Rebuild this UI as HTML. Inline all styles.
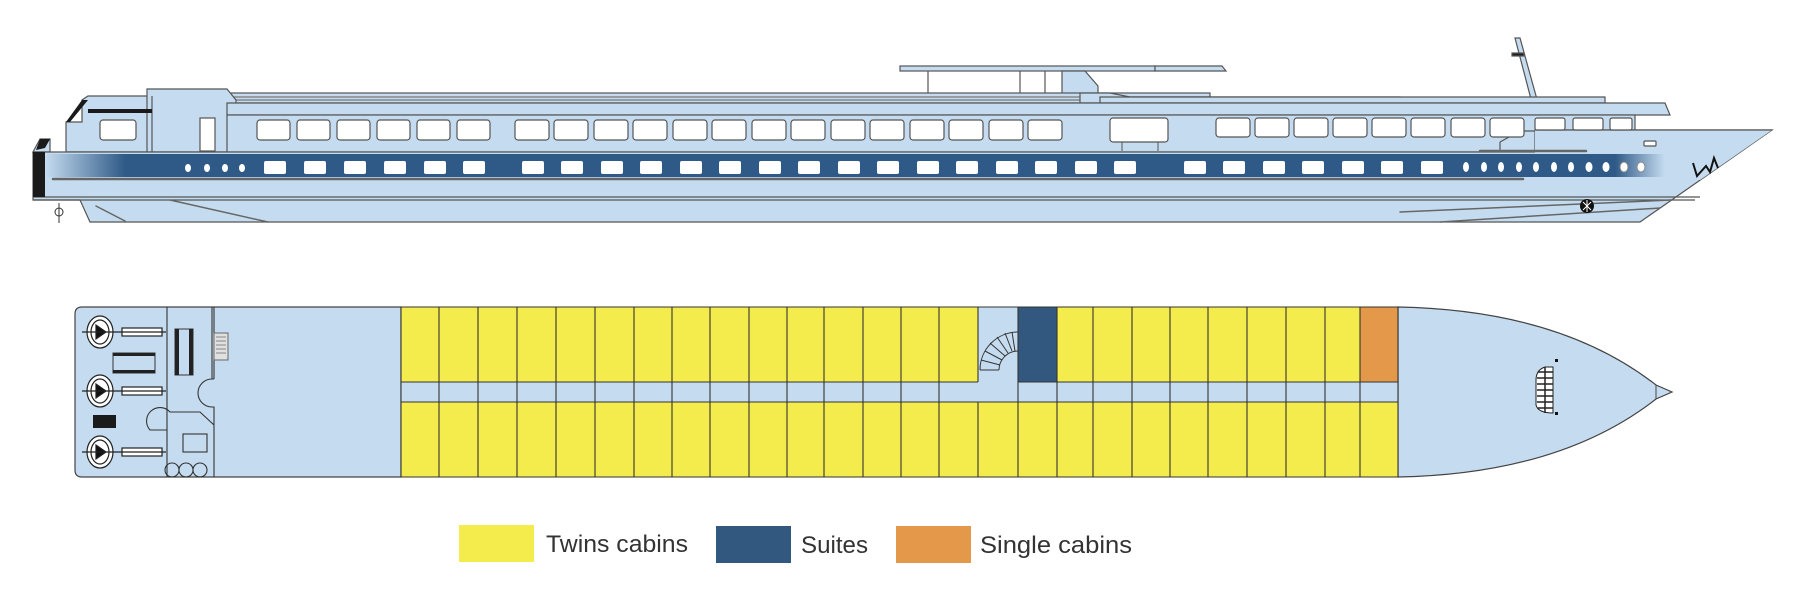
<!DOCTYPE html>
<html><head><meta charset="utf-8"><style>
html,body{margin:0;padding:0;background:#fff;}
svg{display:block;}
text{font-family:"Liberation Sans",sans-serif;}
</style></head><body>
<svg width="1800" height="611" viewBox="0 0 1800 611" xmlns="http://www.w3.org/2000/svg">
<defs>
<linearGradient id="bandL" x1="0" x2="1" y1="0" y2="0">
<stop offset="0" stop-color="#c5dcf0"/><stop offset="1" stop-color="#2f5a87"/></linearGradient>
<linearGradient id="bandR" x1="0" x2="1" y1="0" y2="0">
<stop offset="0" stop-color="#2f5a87"/><stop offset="1" stop-color="#c5dcf0"/></linearGradient>
</defs>
<g stroke="#555" stroke-width="1.2" fill="#c5dcf0">
<!-- sun deck canopy -->
<rect x="900" y="66" width="255" height="5"/>
<polygon points="1155,66 1222,66 1226,71 1155,71"/>
<line x1="928" y1="71" x2="928" y2="103"/><line x1="1020" y1="71" x2="1020" y2="103"/><line x1="1045" y1="71" x2="1045" y2="103"/>
<polygon points="1062,71 1085,71 1098,86 1098,100 1062,100"/>
<!-- mast -->
<polygon points="1515,38 1520,38 1538,103 1532,103"/>
<rect x="1512" y="53" width="12" height="3" fill="#222"/>
<!-- roof -->
<rect x="227" y="93" width="983" height="10"/>
<line x1="227" y1="97" x2="1210" y2="97" stroke="#777"/><line x1="227" y1="100" x2="1210" y2="100" stroke="#777"/>
<polygon points="1080,103 1080,93 1110,93 1130,97 1400,97 1400,103"/>
<polygon points="1100,97 1605,97 1605,103 1100,103"/>
<!-- aft house -->
<polygon points="33,152 40,139 50,139 50,152"/>
<polygon points="66,140 66,122 82,122 82,100 88,96 152,96 152,152 66,152"/>
<polygon points="147,152 147,89 227,89 236,100 236,152"/>
<line x1="152" y1="96" x2="152" y2="152"/>
<!-- main superstructure -->
<polygon points="227,103 1665,103 1670,115 227,115"/>
<rect x="227" y="115" width="1408" height="37"/>
<!-- hull -->
<polygon points="33,152 1535,152 1535,130 1772,130 1640,222 90,222 80,200 33,200"/>
<polygon points="1535,130 1772,130 1700,180 1535,180" stroke="none"/>
<line x1="1535" y1="130" x2="1772" y2="130"/>
<polyline points="1500,142 1520,131 1535,131" fill="none"/>
<line x1="1500" y1="142" x2="1500" y2="152"/>
<line x1="33" y1="197" x2="1700" y2="197"/>
<line x1="33" y1="200" x2="1695" y2="200"/>
</g>
<!-- black trims -->
<rect x="33" y="152" width="12" height="45" fill="#1a1a1a"/>
<polygon points="40,139 50,139 45,148 36,150" fill="#1a1a1a"/>
<polygon points="66,122 70,122 88,100 82,100" fill="#1a1a1a"/>
<rect x="88" y="109" width="64" height="4" fill="#1a1a1a"/>
<!-- blue band -->
<rect x="45" y="154" width="80" height="23" fill="url(#bandL)"/>
<rect x="125" y="154" width="1490" height="23" fill="#2f5a87"/>
<rect x="1615" y="154" width="50" height="23" fill="url(#bandR)"/>
<g stroke="#666" stroke-width="2.5" stroke-linecap="round">
<line x1="53" y1="179" x2="1523" y2="179"/>
<line x1="1480" y1="151" x2="1586" y2="151"/>
<line x1="1400" y1="212" x2="1672" y2="200" stroke-width="1.5"/>
<line x1="1440" y1="222" x2="1660" y2="208" stroke-width="1.5"/>
<line x1="96" y1="206" x2="125" y2="221" stroke-width="1.5"/>
<line x1="170" y1="200" x2="268" y2="222" stroke-width="1.5"/>
</g>
<g fill="#fff">
<ellipse cx="188" cy="168" rx="3" ry="4"/><ellipse cx="207" cy="168" rx="3" ry="4"/><ellipse cx="225" cy="168" rx="3" ry="4"/><ellipse cx="242" cy="168" rx="3" ry="4"/>
<rect x="264" y="161" width="22" height="13" rx="2"/><rect x="304" y="161" width="22" height="13" rx="2"/><rect x="344" y="161" width="22" height="13" rx="2"/><rect x="384" y="161" width="22" height="13" rx="2"/><rect x="424" y="161" width="22" height="13" rx="2"/><rect x="463" y="161" width="22" height="13" rx="2"/>
<rect x="522" y="161" width="22" height="13" rx="2"/><rect x="561" y="161" width="22" height="13" rx="2"/><rect x="601" y="161" width="22" height="13" rx="2"/><rect x="640" y="161" width="22" height="13" rx="2"/><rect x="680" y="161" width="22" height="13" rx="2"/><rect x="719" y="161" width="22" height="13" rx="2"/><rect x="759" y="161" width="22" height="13" rx="2"/><rect x="798" y="161" width="22" height="13" rx="2"/><rect x="838" y="161" width="22" height="13" rx="2"/><rect x="877" y="161" width="22" height="13" rx="2"/><rect x="917" y="161" width="22" height="13" rx="2"/><rect x="956" y="161" width="22" height="13" rx="2"/><rect x="996" y="161" width="22" height="13" rx="2"/><rect x="1035" y="161" width="22" height="13" rx="2"/><rect x="1075" y="161" width="22" height="13" rx="2"/><rect x="1114" y="161" width="22" height="13" rx="2"/>
<rect x="1184" y="161" width="22" height="13" rx="2"/><rect x="1223" y="161" width="22" height="13" rx="2"/><rect x="1263" y="161" width="22" height="13" rx="2"/><rect x="1302" y="161" width="22" height="13" rx="2"/><rect x="1342" y="161" width="22" height="13" rx="2"/><rect x="1381" y="161" width="22" height="13" rx="2"/><rect x="1421" y="161" width="22" height="13" rx="2"/>
<ellipse cx="1466" cy="167" rx="3" ry="5"/><ellipse cx="1484" cy="167" rx="3" ry="5"/><ellipse cx="1501" cy="167" rx="3" ry="5"/><ellipse cx="1519" cy="167" rx="3" ry="5"/><ellipse cx="1536" cy="167" rx="3" ry="5"/><ellipse cx="1554" cy="167" rx="3" ry="5"/><ellipse cx="1571" cy="167" rx="3" ry="5"/><ellipse cx="1589" cy="167" rx="3.5" ry="5"/><ellipse cx="1606" cy="167" rx="3.5" ry="5"/><ellipse cx="1624" cy="167" rx="4" ry="5" stroke="#888"/><ellipse cx="1641" cy="167" rx="4" ry="5" stroke="#888"/>
</g>
<!-- upper windows -->
<g fill="#fff" stroke="#555" stroke-width="1.2">
<rect x="100" y="120" width="36" height="20" rx="3"/>
<rect x="200" y="118" width="15" height="33"/>
<rect x="257" y="120" width="33" height="20" rx="3"/><rect x="297" y="120" width="33" height="20" rx="3"/><rect x="337" y="120" width="33" height="20" rx="3"/><rect x="377" y="120" width="33" height="20" rx="3"/><rect x="417" y="120" width="33" height="20" rx="3"/><rect x="457" y="120" width="33" height="20" rx="3"/>
<rect x="515" y="120" width="34" height="20" rx="3"/><rect x="554" y="120" width="34" height="20" rx="3"/><rect x="594" y="120" width="34" height="20" rx="3"/><rect x="633" y="120" width="34" height="20" rx="3"/><rect x="673" y="120" width="34" height="20" rx="3"/><rect x="712" y="120" width="34" height="20" rx="3"/><rect x="752" y="120" width="34" height="20" rx="3"/><rect x="791" y="120" width="34" height="20" rx="3"/><rect x="831" y="120" width="34" height="20" rx="3"/><rect x="870" y="120" width="34" height="20" rx="3"/><rect x="910" y="120" width="34" height="20" rx="3"/><rect x="949" y="120" width="34" height="20" rx="3"/><rect x="989" y="120" width="34" height="20" rx="3"/><rect x="1028" y="120" width="34" height="20" rx="3"/>
<rect x="1110" y="118" width="58" height="24" rx="3"/>
<rect x="1216" y="118" width="34" height="19" rx="3"/><rect x="1255" y="118" width="34" height="19" rx="3"/><rect x="1294" y="118" width="34" height="19" rx="3"/><rect x="1333" y="118" width="34" height="19" rx="3"/><rect x="1372" y="118" width="34" height="19" rx="3"/><rect x="1411" y="118" width="34" height="19" rx="3"/><rect x="1451" y="118" width="34" height="19" rx="3"/><rect x="1490" y="118" width="34" height="19" rx="3"/>
<rect x="1535" y="118" width="30" height="12" rx="2"/><rect x="1573" y="118" width="30" height="12" rx="2"/><rect x="1610" y="118" width="22" height="12" rx="2"/>
<rect x="1644" y="141" width="12" height="5" rx="1"/>
</g>
<line x1="1122" y1="142" x2="1122" y2="151" stroke="#555"/><line x1="1158" y1="142" x2="1158" y2="151" stroke="#555"/>
<polyline points="1693,163 1697,176 1706,166 1710,172 1714,158 1718,168" fill="none" stroke="#111" stroke-width="2"/>
<circle cx="1587" cy="206" r="7" fill="#111"/><path d="M1583,202 L1591,210 M1591,202 L1583,210 M1587,200 L1587,212" stroke="#fff" stroke-width="1"/>
<circle cx="59" cy="212" r="4" fill="#fff" stroke="#333"/><line x1="59" y1="203" x2="59" y2="223" stroke="#333"/>

<!-- DECK PLAN -->
<path d="M1398,307 Q1560,310 1656,385 L1672,392 L1656,399 Q1560,474 1398,477 Z" fill="#c5dcf0" stroke="#444" stroke-width="1.2"/>
<line x1="1656" y1="385" x2="1656" y2="399" stroke="#444"/>
<path d="M82,307 L401,307 L401,477 L82,477 Q75,477 75,470 L75,314 Q75,307 82,307 Z" fill="#c5dcf0" stroke="#444" stroke-width="1.2"/>
<rect x="401" y="307" width="997" height="75" fill="#f4ec4c"/>
<rect x="401" y="382" width="997" height="20" fill="#c5dcf0"/>
<rect x="401" y="402" width="997" height="75" fill="#f4ec4c"/>
<rect x="978" y="307" width="40" height="75" fill="#c5dcf0"/>
<rect x="1018" y="307" width="39" height="75" fill="#33587f"/>
<rect x="1360" y="307" width="38" height="75" fill="#e4994a"/>
<g stroke="#333" stroke-width="1.1">
<line x1="401" y1="307" x2="1398" y2="307"/><line x1="401" y1="477" x2="1398" y2="477"/>
<line x1="401" y1="382" x2="978" y2="382"/><line x1="1018" y1="382" x2="1398" y2="382"/>
<line x1="401" y1="402" x2="1398" y2="402"/>
<path d="M401,307V477M439,307V477M478,307V477M517,307V477M556,307V477M595,307V477M634,307V477M672,307V477M710,307V477M749,307V477M787,307V477M824,307V477M863,307V477M901,307V477M939,307V477M978,307V382M978,402V477M1018,307V477M1057,307V477M1093,307V477M1132,307V477M1170,307V477M1208,307V477M1247,307V477M1286,307V477M1325,307V477M1360,307V477M1398,307V477"/>
</g>
<!-- spiral stair -->
<g fill="none" stroke="#333" stroke-width="1">
<path d="M980,370 A38,38 0 0 1 1018,332 M999,370 A19,19 0 0 1 1018,351"/>
<path d="M980,370L999,370M981,360L1000,365M985,351L1002,360M990,343L1005,356M997,337L1008,353M1005,333L1012,351M1012,332L1015,351M1018,332L1018,351"/>
</g>
<!-- fore stair -->
<path d="M1553,367 L1545,367 Q1536,370 1536,380 L1536,405 Q1538,413 1553,413 Z" fill="#fff" stroke="#222"/>
<path d="M1538,372H1553M1537,378H1553M1537,384H1553M1537,390H1553M1537,396H1553M1537,402H1553M1538,408H1553M1545,367V413" stroke="#222" stroke-width="1.5"/>
<rect x="1555" y="359" width="3" height="3" fill="#111"/><rect x="1555" y="412" width="3" height="3" fill="#111"/>
<!-- engine room -->
<g stroke="#333" stroke-width="1.1" fill="none">
<line x1="167" y1="307" x2="167" y2="477"/>
<line x1="212" y1="307" x2="212" y2="379"/><line x1="214" y1="307" x2="214" y2="379"/>
<path d="M214,379 L212,379 A14,14 0 0 0 212,407 L214,407 V477"/>
<path d="M167,430 L150,430 A12,12 0 0 1 170,412 L200,412 L214,425"/>
<rect x="183" y="434" width="24" height="18"/>
<circle cx="172" cy="470" r="7"/><circle cx="186" cy="470" r="7"/><circle cx="200" cy="470" r="7"/>
<rect x="175" y="329" width="18" height="46" stroke-width="1"/>
<rect x="113" y="353" width="42" height="20" stroke-width="1"/>
</g>
<rect x="175" y="329" width="4" height="46" fill="#222"/><rect x="189" y="329" width="4" height="46" fill="#222"/>
<rect x="113" y="353" width="42" height="3" fill="#222"/><rect x="113" y="370" width="42" height="3" fill="#222"/>
<rect x="93" y="415" width="23" height="13" fill="#1a1a1a"/>
<rect x="214" y="333" width="14" height="27" fill="#e0e0e0" stroke="#666"/>
<path d="M216,337H226M216,341H226M216,345H226M216,349H226M216,353H226" stroke="#888"/>
<g stroke="#222" stroke-width="1.2">
<g><ellipse cx="100" cy="332" rx="13" ry="16" fill="#fff"/><ellipse cx="100" cy="332" rx="9" ry="12" fill="#fff"/><polygon points="96,325 96,339 106,332" fill="#111"/><rect x="122" y="328" width="40" height="8" fill="#fff"/><line x1="82" y1="332" x2="166" y2="332"/></g>
<g><ellipse cx="100" cy="391" rx="13" ry="16" fill="#fff"/><ellipse cx="100" cy="391" rx="9" ry="12" fill="#fff"/><polygon points="96,384 96,398 106,391" fill="#111"/><rect x="122" y="387" width="40" height="8" fill="#fff"/><line x1="82" y1="391" x2="166" y2="391"/></g>
<g><ellipse cx="100" cy="452" rx="13" ry="16" fill="#fff"/><ellipse cx="100" cy="452" rx="9" ry="12" fill="#fff"/><polygon points="96,445 96,459 106,452" fill="#111"/><rect x="122" y="448" width="40" height="8" fill="#fff"/><line x1="82" y1="452" x2="166" y2="452"/></g>
</g>
<!-- legend -->
<rect x="459" y="525" width="75" height="37" fill="#f4ec4c"/>
<text x="546" y="552" font-size="24" fill="#333" textLength="142" lengthAdjust="spacingAndGlyphs">Twins cabins</text>
<rect x="716" y="526" width="75" height="37" fill="#33587f"/>
<text x="801" y="553" font-size="24" fill="#333" textLength="67" lengthAdjust="spacingAndGlyphs">Suites</text>
<rect x="896" y="526" width="75" height="37" fill="#e4994a"/>
<text x="980" y="553" font-size="24" fill="#333" textLength="152" lengthAdjust="spacingAndGlyphs">Single cabins</text>
</svg>
</body></html>
